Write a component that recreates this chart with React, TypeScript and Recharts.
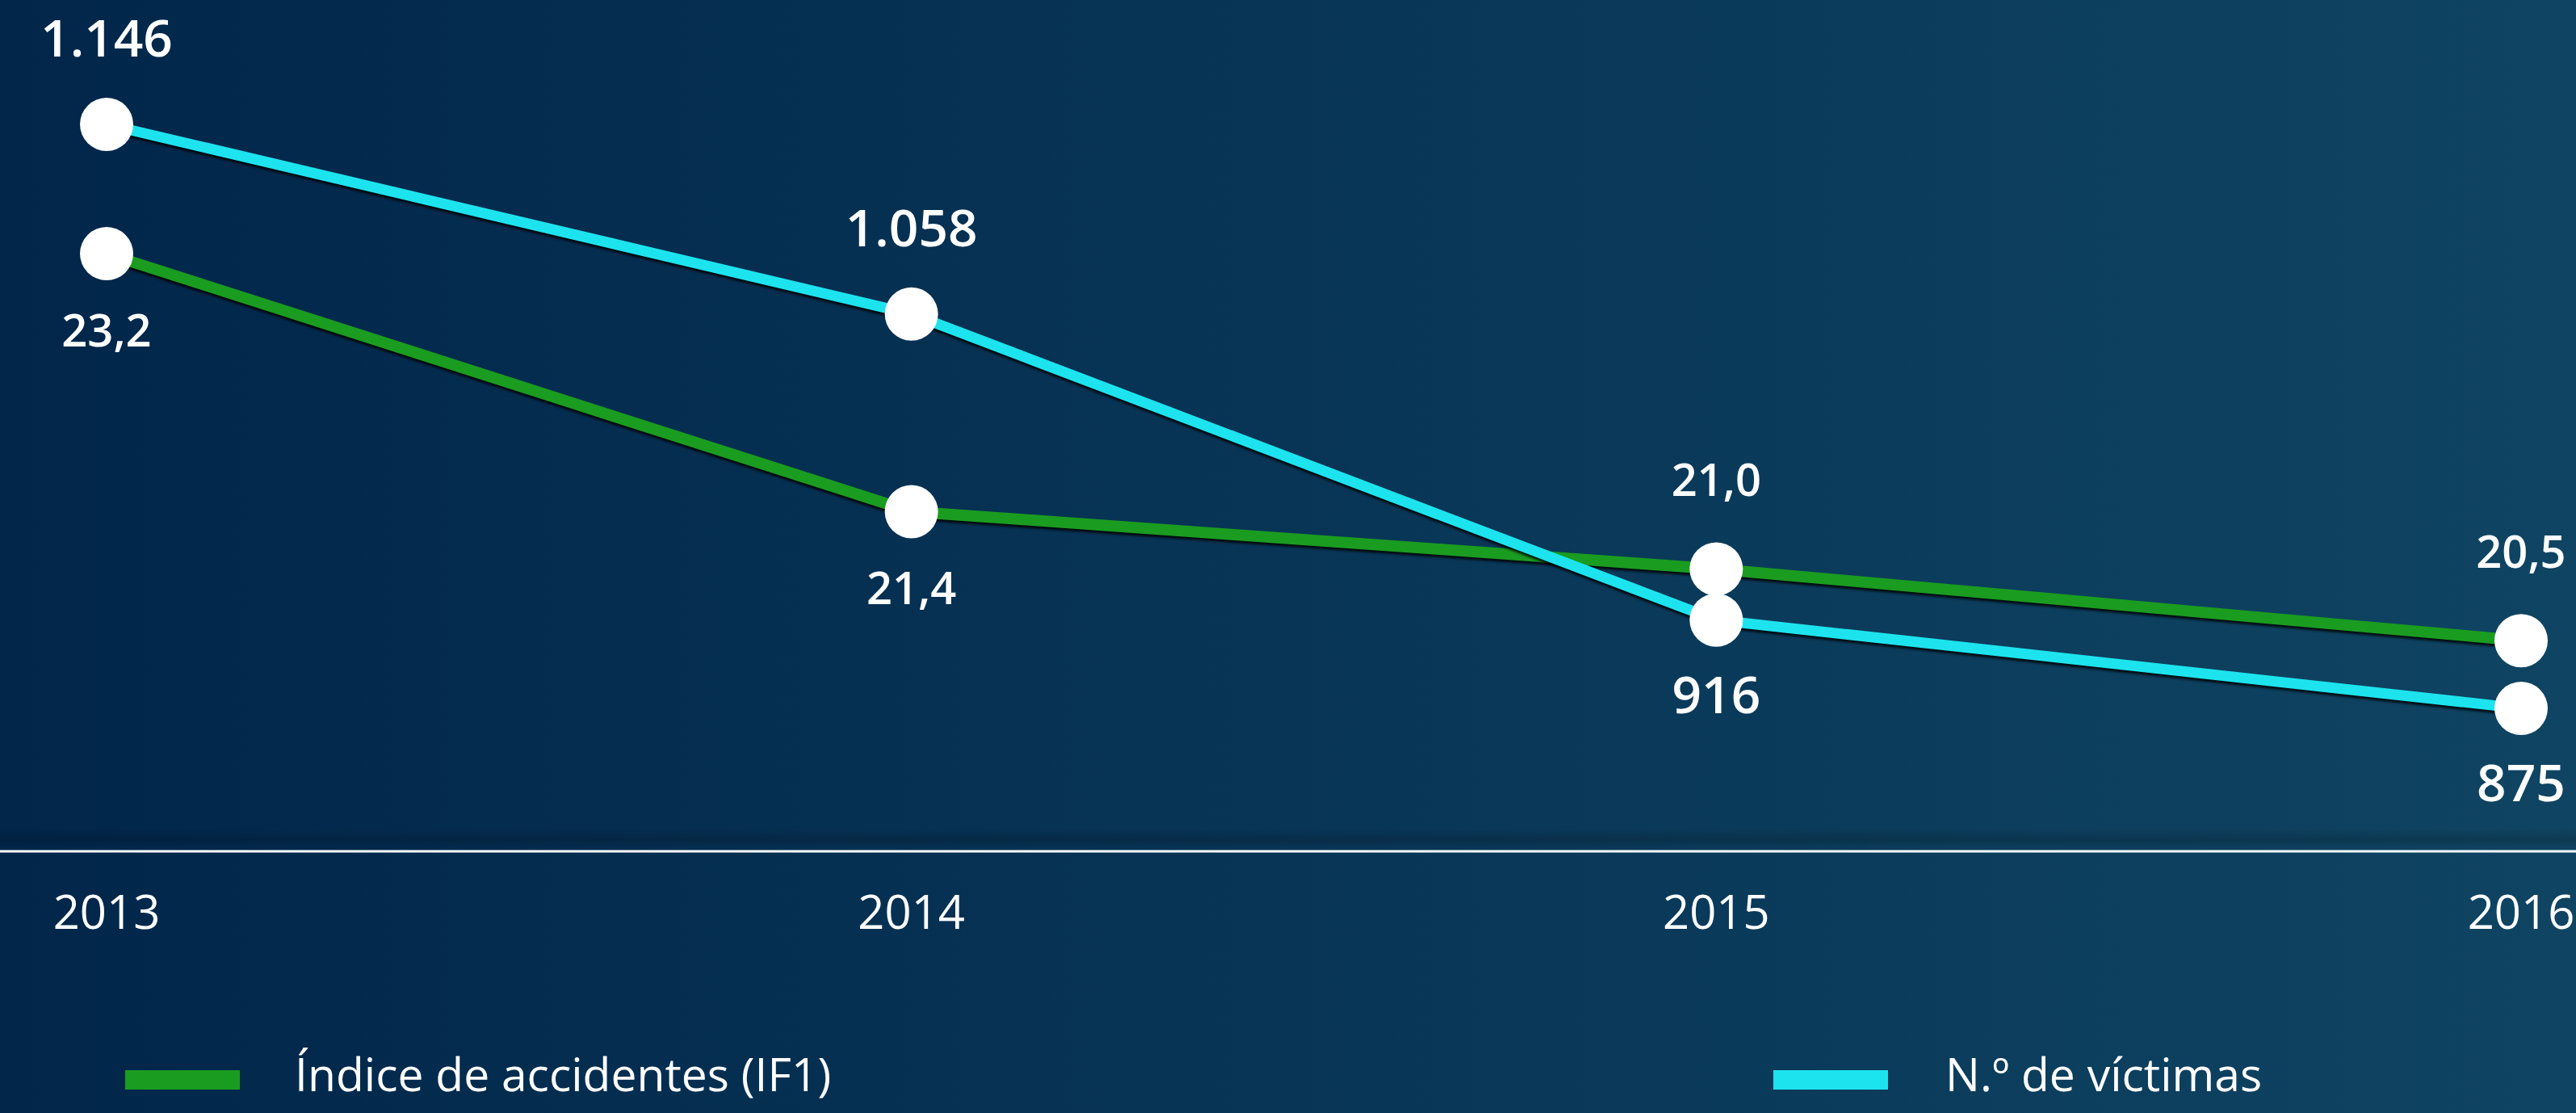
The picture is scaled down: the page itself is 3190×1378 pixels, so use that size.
import { LineChart, Line, XAxis, YAxis, Legend, LabelList } from "recharts";

const years: string[] = ["2013", "2014", "2015", "2016"];
const accidentIndex: number[] = [23.2, 21.4, 21.0, 20.5];
const victims: number[] = [1146, 1058, 916, 875];

const seriesNames = {
  accidentIndex: "Índice de accidentes (IF1)",
  victims: "N.º de víctimas",
};

const GREEN = "#1a9c20";
const CYAN = "#1de3ee";
const FONT = "'Open Sans', 'Noto Sans', sans-serif";

const W = 3190;
const H = 1378;
const LEGEND_H = 100;

const data = years.map((year, i) => ({
  year,
  accidentIndex: accidentIndex[i],
  victims: victims[i],
}));

const fmtVictims = (v: number) =>
  v >= 1000 ? `${Math.floor(v / 1000)}.${String(v % 1000).padStart(3, "0")}` : String(v);
const fmtIndex = (v: number) => v.toFixed(1).replace(".", ",");

// labels sit on the outer side of each line: victims above then below, index the other way round
const makeLabel =
  (isAbove: (i: number) => boolean, size: number, upGap: number, fmt: (v: number) => string) =>
  (props: any) => {
    const { x, y, value, index } = props;
    const up = isAbove(index);
    return (
      <text
        x={x}
        y={y + (up ? -upGap : 115)}
        textAnchor="middle"
        fill="#fff"
        fontSize={size}
        fontWeight={600}
        fontFamily={FONT}
      >
        {fmt(Number(value))}
      </text>
    );
  };

const LegendContent = () => (
  <svg width={W} height={LEGEND_H} style={{ display: "block" }}>
    <rect x={155} y={47} width={142} height={24} fill={GREEN} />
    <text x={365} y={73} fill="#fff" fontSize={57} fontFamily={FONT}>
      {seriesNames.accidentIndex}
    </text>
    <rect x={2196} y={47} width={142} height={24} fill={CYAN} />
    <text x={2409} y={73} fill="#fff" fontSize={57} fontFamily={FONT}>
      {seriesNames.victims}
    </text>
  </svg>
);

export default function App() {
  return (
    <div
      style={{
        position: "absolute",
        left: 0,
        top: 0,
        width: W,
        height: H,
        overflow: "hidden",
        background:
          "linear-gradient(to bottom, transparent 1026px, rgba(0,0,0,0.16) 1040px, transparent 1050px), linear-gradient(to right, #01264a, #0f4462)",
      }}
    >
      <style>{`.recharts-line-curve { filter: drop-shadow(0px 3px 1.5px rgba(0,0,0,0.85)); }`}</style>
      <LineChart width={W} height={H} data={data} margin={{ top: 0, right: 0, bottom: 0, left: 0 }}>
        <XAxis
          dataKey="year"
          height={H - 1054 - LEGEND_H}
          padding={{ left: 132, right: 68 }}
          axisLine={{ stroke: "#ffffff", strokeWidth: 3 }}
          tickLine={false}
          tickSize={0}
          tickMargin={55}
          tick={{ fill: "#ffffff", fontSize: 58, fontFamily: FONT, fontWeight: 500 }}
        />
        <YAxis yAxisId="index" hide domain={[19.03, 24.97]} />
        <YAxis yAxisId="victims" hide domain={[808.7, 1203.7]} />
        <Legend verticalAlign="bottom" wrapperStyle={{ left: 0, width: W }} content={LegendContent} />
        <Line
          yAxisId="index"
          dataKey="accidentIndex"
          name={seriesNames.accidentIndex}
          type="linear"
          stroke={GREEN}
          strokeWidth={14}
          dot={{ r: 33, fill: "#ffffff", stroke: "none" }}
          activeDot={false}
          isAnimationActive={false}
        >
          <LabelList dataKey="accidentIndex" content={makeLabel((i) => i >= 2, 56, 90, fmtIndex)} />
        </Line>
        <Line
          yAxisId="victims"
          dataKey="victims"
          name={seriesNames.victims}
          type="linear"
          stroke={CYAN}
          strokeWidth={13}
          dot={{ r: 33, fill: "#ffffff", stroke: "none" }}
          activeDot={false}
          isAnimationActive={false}
        >
          <LabelList dataKey="victims" content={makeLabel((i) => i < 2, 64, 84, fmtVictims)} />
        </Line>
      </LineChart>
    </div>
  );
}
